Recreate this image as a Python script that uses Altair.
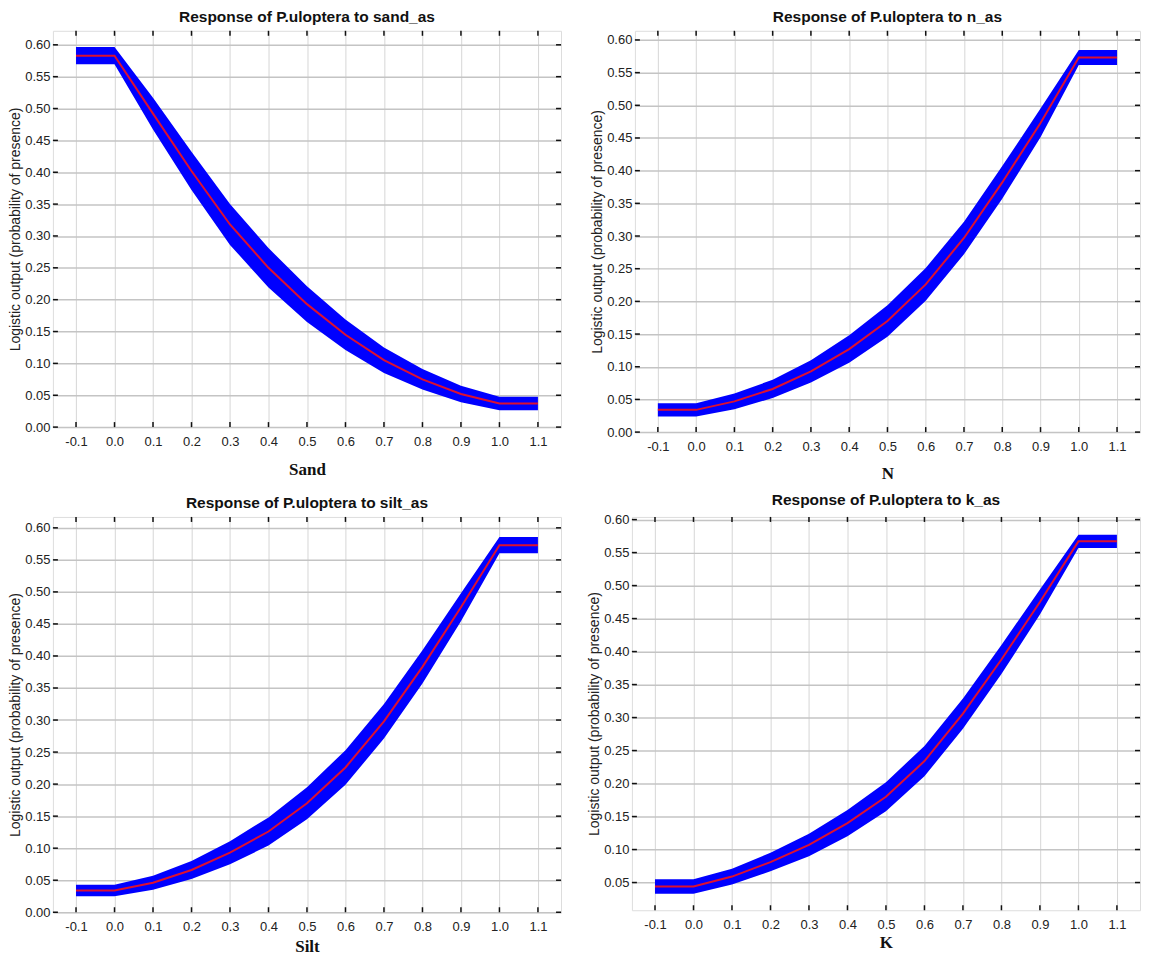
import altair as alt
import pandas as pd

# ---- data ----
x_vals = [-0.1, 0.0, 0.1, 0.2, 0.3, 0.4, 0.5, 0.6, 0.7, 0.8, 0.9, 1.0, 1.1]

sand_y = [0.583, 0.583, 0.492, 0.402, 0.318, 0.250, 0.193, 0.145, 0.105, 0.075, 0.052, 0.037, 0.037]
sand_sd = [0.0135, 0.0135, 0.025, 0.030, 0.032, 0.031, 0.028, 0.024, 0.020, 0.016, 0.013, 0.0105, 0.0105]

n_y = [0.034, 0.034, 0.047, 0.066, 0.093, 0.127, 0.170, 0.226, 0.297, 0.382, 0.473, 0.573, 0.573]
n_sd = [0.010, 0.010, 0.012, 0.014, 0.017, 0.021, 0.024, 0.025, 0.025, 0.025, 0.022, 0.0115, 0.0115]

silt_y = [0.034, 0.034, 0.046, 0.066, 0.093, 0.126, 0.170, 0.226, 0.298, 0.383, 0.476, 0.573, 0.573]
silt_sd = [0.009, 0.009, 0.011, 0.014, 0.018, 0.022, 0.025, 0.027, 0.027, 0.026, 0.022, 0.0125, 0.0125]

k_y = [0.044, 0.044, 0.059, 0.081, 0.107, 0.140, 0.180, 0.234, 0.306, 0.388, 0.475, 0.567, 0.567]
k_sd = [0.011, 0.011, 0.012, 0.014, 0.017, 0.020, 0.022, 0.023, 0.023, 0.022, 0.019, 0.010, 0.010]

x_ticks = [-0.1, 0.0, 0.1, 0.2, 0.3, 0.4, 0.5, 0.6, 0.7, 0.8, 0.9, 1.0, 1.1]
y_ticks = [0.0, 0.05, 0.1, 0.15, 0.2, 0.25, 0.3, 0.35, 0.4, 0.45, 0.5, 0.55, 0.6]
y_ticks_k = [0.05, 0.1, 0.15, 0.2, 0.25, 0.3, 0.35, 0.4, 0.45, 0.5, 0.55, 0.6]

titles = ["Response of P.uloptera to sand_as", "Response of P.uloptera to n_as",
          "Response of P.uloptera to silt_as", "Response of P.uloptera to k_as"]
x_titles = ["Sand", "N", "Silt", "K"]
y_title = "Logistic output (probability of presence)"

SANS = "Liberation Sans, Arial, sans-serif"


def panel(yvals, sd, title, xtitle, w, h, ydom, yt, xtitle_pad, title_drop=0):
    df = pd.DataFrame({"x": x_vals, "y": yvals,
                       "lo": [a - b for a, b in zip(yvals, sd)],
                       "hi": [a + b for a, b in zip(yvals, sd)]})
    xs = alt.Scale(domain=[-0.16, 1.16], nice=False, zero=False)
    ys = alt.Scale(domain=ydom, nice=False, zero=False)
    xaxis = alt.Axis(values=x_ticks, tickCount=13,
                     labelExpr="replace(format(datum.value, '.1f'), '\u2212', '-')",
                     title=xtitle, grid=True, labelOverlap=False,
                     gridColor="#d6d6d6", gridWidth=1, ticks=False, domain=False,
                     labelFont=SANS, labelFontSize=13, labelColor="#222",
                     labelPadding=8, titleFont="Liberation Serif", titleFontSize=17,
                     titleFontWeight="bold", titleColor="#111", titlePadding=xtitle_pad)
    yaxis = alt.Axis(values=yt, tickCount=13, format=".2f", title=y_title, grid=True,
                     labelOverlap=False,
                     gridColor="#c4c4c4", gridWidth=1.5, ticks=False, domain=False,
                     labelFont=SANS, labelFontSize=13, labelColor="#222",
                     labelPadding=3, titleFont=SANS, titleFontSize=14,
                     titleFontWeight="normal", titleColor="#222", titlePadding=2)

    def X(f):
        return alt.X(f + ":Q", scale=xs, axis=xaxis)

    def Y(f):
        return alt.Y(f + ":Q", scale=ys, axis=yaxis)

    base = alt.Chart(df)
    bandl = base.mark_area(color="#0000ff", opacity=1).encode(x=X("x"), y=Y("lo"), y2="hi:Q")
    red = base.mark_line(color="#dd1030", strokeWidth=2).encode(x=X("x"), y=Y("y"))
    dx = pd.DataFrame({"x": x_ticks})
    dy = pd.DataFrame({"y": yt})
    tb = alt.Chart(dx).mark_rule(color="#111", strokeWidth=1.5).encode(
        x=X("x"), y=alt.value(h), y2=alt.value(h - 5))
    tt = alt.Chart(dx).mark_rule(color="#111", strokeWidth=1.5).encode(
        x=X("x"), y=alt.value(0), y2=alt.value(5))
    tl = alt.Chart(dy).mark_rule(color="#111", strokeWidth=1.5).encode(
        y=Y("y"), x=alt.value(0), x2=alt.value(5))
    tr = alt.Chart(dy).mark_rule(color="#111", strokeWidth=1.5).encode(
        y=Y("y"), x=alt.value(w), x2=alt.value(w - 5))
    if title_drop:
        ttl = alt.TitleParams(["", title], font=SANS, fontSize=15.5, fontWeight="bold",
                              color="#111", anchor="middle", offset=5, lineHeight=title_drop)
    else:
        ttl = alt.TitleParams(title, font=SANS, fontSize=15.5, fontWeight="bold",
                              color="#111", anchor="middle", offset=5)
    return alt.layer(bandl, red, tb, tt, tl, tr).properties(width=w, height=h, title=ttl)


p1 = panel(sand_y, sand_sd, titles[0], x_titles[0], 509, 397, [0, 0.622], y_ticks, 13)
p2 = panel(n_y, n_sd, titles[1], x_titles[1], 506, 402, [0, 0.614], y_ticks, 12)
p3 = panel(silt_y, silt_sd, titles[2], x_titles[2], 509, 396, [0, 0.617], y_ticks, 5)
p4 = panel(k_y, k_sd, titles[3], x_titles[3], 509, 394, [0.008, 0.604], y_ticks_k, 3,
           title_drop=10)

row1 = alt.hconcat(p1, p2, spacing=27)
row2 = alt.concat(p3, p4, columns=2, align="none", spacing=24)
chart = alt.vconcat(row1, row2, spacing=0).properties(padding=0).configure_view(
    stroke="#4a4a4a", strokeWidth=1.5).configure(background="white")

chart.save("out.html", embed_options={"renderer": "svg", "actions": False})
